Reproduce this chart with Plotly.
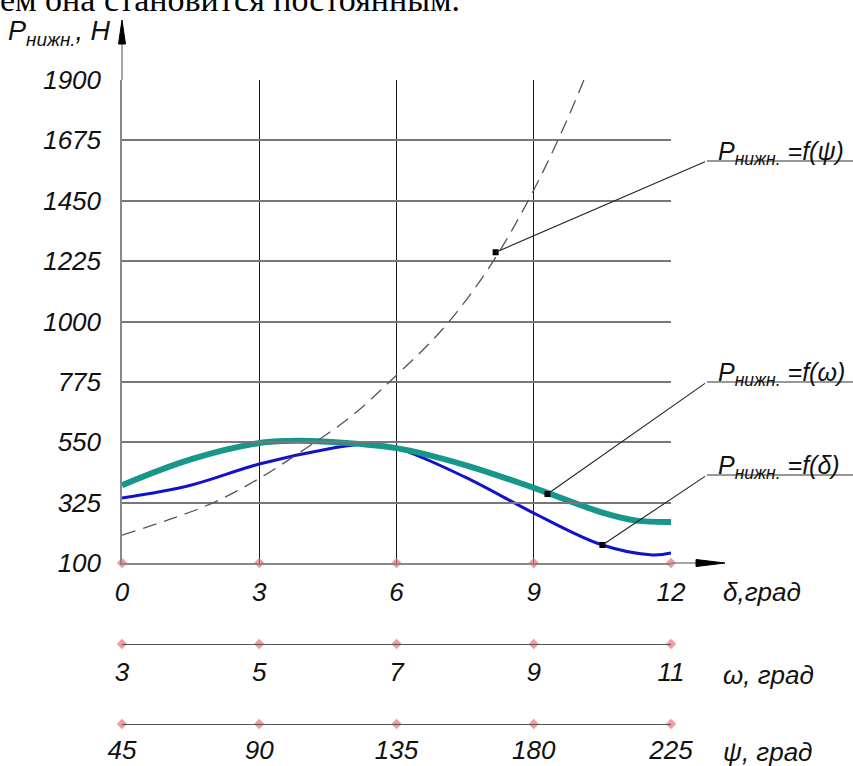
import plotly.graph_objects as go

# ---------------- data ----------------
y_ticks = [100, 325, 550, 775, 1000, 1225, 1450, 1675, 1900]
delta_ticks = [0, 3, 6, 9, 12]
omega_ticks = [3, 5, 7, 9, 11]
psi_ticks = [45, 90, 135, 180, 225]

# P_нижн = f(δ)  (blue)
delta_x = [0, 1.5, 3, 4.5, 5.3, 6, 7.5, 9, 10.5, 11.6, 12]
delta_p = [342, 390, 469, 525, 543, 528, 420, 286, 167, 130, 137]

# P_нижн = f(ω)  (teal)
omega_x = [3, 4, 5, 5.4, 6, 7, 8, 9, 10, 10.5, 11]
omega_p = [390, 486, 547, 555, 552, 528, 465, 380, 288, 258, 253]

# P_нижн = f(ψ)  (dashed)
psi_x = [45, 60, 75, 90, 105, 120, 135, 150, 165, 180, 195, 210]
psi_p = [204, 260, 325, 415, 525, 645, 800, 970, 1195, 1490, 1860, 2320]

# points where the leader lines start
lead_delta = (10.5, 167)
lead_omega = (9.2, 357)
lead_psi = (167.5, 1258)

FONT = "Liberation Sans"
W, H = 853, 766
ML, MT, MB = 122, 80, 10
MR = W - 671
PW, PH = W - ML - MR, H - MT - MB


def px(x):   # page pixel -> paper
    return (x - ML) / PW


def py(y):
    return (H - MB - y) / PH


fig = go.Figure()

fig.add_trace(go.Scatter(x=psi_x, y=psi_p, xaxis="x3", yaxis="y", mode="lines",
                         line=dict(color="#555555", width=1.3, dash="14px,8px", shape="spline"),
                         hoverinfo="skip"))
fig.add_trace(go.Scatter(x=omega_x, y=omega_p, xaxis="x2", yaxis="y", mode="lines",
                         line=dict(color="#17968b", width=6, shape="spline"), hoverinfo="skip"))
fig.add_trace(go.Scatter(x=delta_x, y=delta_p, xaxis="x", yaxis="y", mode="lines",
                         line=dict(color="#1212c8", width=3, shape="spline"), hoverinfo="skip"))

for (xx, yy), xa in [(lead_delta, "x"), (lead_omega, "x2"), (lead_psi, "x3")]:
    fig.add_trace(go.Scatter(x=[xx], y=[yy], xaxis=xa, yaxis="y", mode="markers",
                             marker=dict(symbol="square", size=6, color="black"),
                             hoverinfo="skip"))

pink = "rgba(240,110,120,0.7)"
fig.add_trace(go.Scatter(x=delta_ticks, y=[y_ticks[0]] * len(delta_ticks), xaxis="x", yaxis="y",
                         mode="markers", cliponaxis=False,
                         marker=dict(symbol="diamond", size=8, color=pink), hoverinfo="skip"))
fig.add_trace(go.Scatter(x=omega_ticks, y=[0] * len(omega_ticks), xaxis="x2", yaxis="y2",
                         mode="markers", cliponaxis=False,
                         marker=dict(symbol="diamond", size=8, color=pink), hoverinfo="skip"))
fig.add_trace(go.Scatter(x=psi_ticks, y=[0] * len(psi_ticks), xaxis="x3", yaxis="y3",
                         mode="markers", cliponaxis=False,
                         marker=dict(symbol="diamond", size=8, color=pink), hoverinfo="skip"))

tickfont = dict(family=FONT, size=26, color="#111111", style="italic")
y_main_bot = py(563)
y_om = py(644)
y_ps = py(724)

fig.update_layout(
    width=W, height=H,
    margin=dict(l=ML, r=MR, t=MT, b=MB, autoexpand=False),
    paper_bgcolor="white", plot_bgcolor="rgba(0,0,0,0)",
    showlegend=False,
    xaxis=dict(domain=[0, 1], anchor="y", range=[0, 12], tickvals=delta_ticks,
               showgrid=True, gridcolor="#1a1a1a", gridwidth=1.2,
               showline=True, linecolor="#888888", linewidth=1.5,
               ticks="outside", ticklen=5, tickcolor="rgba(0,0,0,0)",
               tickfont=tickfont, zeroline=False, automargin=False),
    yaxis=dict(domain=[y_main_bot, 1], anchor="x", range=[100, 1900], tickvals=y_ticks,
               showgrid=True, gridcolor="#777777", gridwidth=1.5,
               showline=True, linecolor="#888888", linewidth=1.5,
               ticks="outside", ticklen=14, tickcolor="rgba(0,0,0,0)",
               tickfont=tickfont, zeroline=False, automargin=False),
    xaxis2=dict(domain=[0, 1], anchor="y2", range=[3, 11], tickvals=omega_ticks,
                showgrid=False, showline=True, linecolor="#555555", linewidth=1.3,
                ticks="outside", ticklen=5, tickcolor="rgba(0,0,0,0)",
                tickfont=tickfont, zeroline=False, automargin=False),
    yaxis2=dict(domain=[y_om, y_om + 0.02], anchor="x2", range=[0, 1], visible=False,
                automargin=False),
    xaxis3=dict(domain=[0, 1], anchor="y3", range=[45, 225], tickvals=psi_ticks,
                showgrid=False, showline=True, linecolor="#555555", linewidth=1.3,
                ticks="outside", ticklen=3, tickcolor="rgba(0,0,0,0)",
                tickfont=tickfont, zeroline=False, automargin=False),
    yaxis3=dict(domain=[y_ps, y_ps + 0.02], anchor="x3", range=[0, 1], visible=False,
                automargin=False),
)

shapes = []
shapes.append(dict(type="line", xref="paper", yref="paper", x0=0, x1=0, y0=1, y1=py(40),
                   line=dict(color="#888888", width=1.5)))
hw = 3.5 / PW
shapes.append(dict(type="path", xref="paper", yref="paper",
                   path=f"M 0,{py(20)} L {hw},{py(44)} L {-hw},{py(44)} Z",
                   fillcolor="black", line=dict(color="black", width=1)))
shapes.append(dict(type="line", xref="paper", yref="paper", x0=1, x1=px(700), y0=y_main_bot,
                   y1=y_main_bot, line=dict(color="#888888", width=1.5)))
hh = 3.5 / PH
shapes.append(dict(type="path", xref="paper", yref="paper",
                   path=f"M {px(725)},{y_main_bot} L {px(696)},{y_main_bot + hh} L {px(696)},{y_main_bot - hh} Z",
                   fillcolor="black", line=dict(color="black", width=1)))
for yy in [161, 382, 475]:
    shapes.append(dict(type="line", xref="paper", yref="paper", x0=px(707), x1=px(870),
                       y0=py(yy), y1=py(yy), line=dict(color="#333333", width=1.2)))
fig.update_layout(shapes=shapes)

ranges = {"x": (0, 12), "x2": (3, 11), "x3": (45, 225)}


def head_px(xa, xx, yy):
    r = ranges[xa]
    hx = 122 + (xx - r[0]) / (r[1] - r[0]) * (671 - 122)
    hy = 563 - (yy - 100) / 1800 * (563 - 80)
    return hx, hy


ann = []
for (xx, yy), xa, (tx, ty) in [(lead_delta, "x", (707, 475)),
                               (lead_omega, "x2", (707, 382)),
                               (lead_psi, "x3", (707, 161))]:
    hx, hy = head_px(xa, xx, yy)
    ann.append(dict(xref=xa, yref="y", x=xx, y=yy, text="&nbsp;", font=dict(size=2),
                    showarrow=True, arrowhead=0, ax=tx - hx, ay=ty - hy,
                    arrowcolor="#222222", arrowwidth=1.1, standoff=0, startstandoff=0))

lab_font = dict(family=FONT, size=25, color="#111111")
for yy, sym in [(161, "ψ"), (382, "ω"), (475, "δ")]:
    ann.append(dict(xref="paper", yref="paper", x=px(716), y=py(yy + 10), xanchor="left",
                    yanchor="bottom", showarrow=False, font=lab_font,
                    text=f"<i>P<sub>нижн.</sub> =f({sym})</i>"))

ax_font = dict(family=FONT, size=26, color="#111111")
for yy, t in [(592, "δ,град"), (675, "ω, град"), (752, "ψ, град")]:
    ann.append(dict(xref="paper", yref="paper", x=px(721), y=py(yy), xanchor="left",
                    yanchor="middle", showarrow=False, font=ax_font, text=f"<i>{t}</i>"))

ann.append(dict(xref="paper", yref="paper", x=px(6), y=py(52), xanchor="left",
                yanchor="bottom", showarrow=False,
                font=dict(family=FONT, size=27, color="#111111"),
                text="<i>P<sub>нижн.</sub>, Н</i>"))
ann.append(dict(xref="paper", yref="paper", x=px(-2), y=py(20), xanchor="left",
                yanchor="bottom", showarrow=False,
                font=dict(family="Liberation Serif", size=34, color="black"),
                text="ем она становится постоянным."))
fig.update_layout(annotations=ann)

post = ("document.documentElement.style.margin='0';document.body.style.margin='0';"
        "document.documentElement.style.overflow='hidden';document.body.style.overflow='hidden';")
fig.write_html("out.html", post_script=post, config={"displayModeBar": False})
